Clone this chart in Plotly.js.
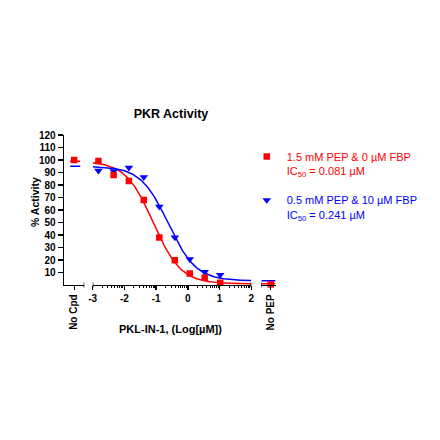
<!DOCTYPE html>
<html>
<head>
<meta charset="utf-8">
<script src="https://cdn.plot.ly/plotly-3.0.1.min.js"></script>
<style>html,body{margin:0;padding:0;background:#fff;}#chart{width:440px;height:440px;}</style>
</head>
<body>
<div id="chart"></div>
<script>
// ---- Data ----
const logConc = [-2.82, -2.34, -1.86, -1.39, -0.90, -0.41, 0.06, 0.53, 1.02]; // Log[µM]
const redActivity = [99.2, 88.0, 83.2, 68.0, 38.0, 19.9, 9.2, 5.8, 1.8];
const blueActivity = [91.5, 91.0, 93.9, 86.2, 62.7, 38.0, 20.7, 10.5, 8.1];
const noCpdRed = [100];
const noPepRed = [0.5];
// 4-parameter logistic fit: [top, bottom, logIC50, hill]
const redFit = [99.0, 1.0, -1.0915, 1.0];
const blueFit = [95.0, 3.4, -0.618, 1.0];
const majorTicks = [-3, -2, -1, 0, 1, 2];
const yTicks = [10, 20, 30, 40, 50, 60, 70, 80, 90, 100, 110, 120];
const seriesNames = ['1.5 mM PEP &amp; 0 µM FBP', '0.5 mM PEP &amp; 10 µM FBP'];
const ic50Labels = ['0.081 µM', '0.241 µM'];
const colors = ['#ff0000', '#0000ff'];

const FONT = 'Liberation Sans, Arial, sans-serif';

function fourPL(p, x) {
  return p[1] + (p[0] - p[1]) / (1 + Math.pow(10, (x - p[2]) * p[3]));
}
const curveX = [];
for (let i = 0; i <= 250; i++) curveX.push(-3 + 5 * i / 250);
const minorTicks = [];
for (let k = -3; k < 2; k++) for (let m = 2; m <= 9; m++) minorTicks.push(k + Math.log10(m));

function legendName(i) {
  return '<span style="color:' + colors[i] + '">' + seriesNames[i] + '</span><br>' +
         '<span style="color:' + colors[i] + '">IC<sub>50</sub> = ' + ic50Labels[i] + '</span>';
}

const traces = [
  // fitted curves
  {x: curveX, y: curveX.map(x => fourPL(redFit, x)), xaxis: 'x2', yaxis: 'y', mode: 'lines',
   line: {color: colors[0], width: 1.5}, showlegend: false, hoverinfo: 'skip'},
  {x: curveX, y: curveX.map(x => fourPL(blueFit, x)), xaxis: 'x2', yaxis: 'y', mode: 'lines',
   line: {color: colors[1], width: 1.5}, showlegend: false, hoverinfo: 'skip'},
  // top lines (No Cpd)
  {x: [-0.4, 0.6], y: [blueFit[0], blueFit[0]], xaxis: 'x', yaxis: 'y', mode: 'lines',
   line: {color: colors[1], width: 1.5}, showlegend: false},
  {x: [-0.4, 0.6], y: [redFit[0], redFit[0]], xaxis: 'x', yaxis: 'y', mode: 'lines',
   line: {color: colors[0], width: 1.5}, showlegend: false},
  // bottom lines (No PEP)
  {x: [-1.2, 0.6], y: [blueFit[1], blueFit[1]], xaxis: 'x3', yaxis: 'y', mode: 'lines',
   line: {color: colors[1], width: 1.5}, showlegend: false},
  {x: [-1.2, 0.6], y: [redFit[1], redFit[1]], xaxis: 'x3', yaxis: 'y', mode: 'lines',
   line: {color: colors[0], width: 1.5}, showlegend: false},
  // data points
  {x: logConc, y: blueActivity, xaxis: 'x2', yaxis: 'y', mode: 'markers', name: legendName(1),
   legendgroup: 'b', legendrank: 2, marker: {symbol: 'triangle-down', size: 7.5, color: colors[1]}},
  {x: logConc, y: redActivity, xaxis: 'x2', yaxis: 'y', mode: 'markers', name: legendName(0),
   legendgroup: 'a', legendrank: 1, marker: {symbol: 'square', size: 6.5, color: colors[0]}},
  {x: [0], y: noCpdRed, xaxis: 'x', yaxis: 'y', mode: 'markers', showlegend: false,
   marker: {symbol: 'square', size: 6.5, color: colors[0]}},
  {x: [0], y: noPepRed, xaxis: 'x3', yaxis: 'y', mode: 'markers', showlegend: false,
   marker: {symbol: 'square', size: 6.5, color: colors[0]}, cliponaxis: false}
];

const tickFont = {family: FONT, size: 10, color: '#000', weight: 700};
const axisCommon = {showline: true, linecolor: '#000', linewidth: 1.3, ticks: 'outside',
  tickcolor: '#000', tickwidth: 1.3, showgrid: false, zeroline: false, tickfont: tickFont, fixedrange: true};

const layout = {
  width: 440, height: 440,
  margin: {l: 64, r: 164, t: 135, b: 155, pad: 0},
  paper_bgcolor: '#fff', plot_bgcolor: '#fff',
  title: {text: '<b>PKR Activity</b>', font: {family: FONT, size: 12.5, color: '#000'},
          x: 0.3886, xanchor: 'center', y: 0.741, yanchor: 'middle'},
  xaxis: Object.assign({}, axisCommon, {domain: [0, 0.0958], range: [-1, 1], tickmode: 'array',
          tickvals: [0], ticktext: ['No Cpd'], tickangle: -90, ticklen: 4, anchor: 'y'}),
  xaxis2: Object.assign({}, axisCommon, {domain: [0.1354, 0.8835], range: [-3, 2], tickmode: 'array',
          tickvals: majorTicks, ticktext: majorTicks.map(String), ticklen: 4, anchor: 'y',
          minor: {tickmode: 'array', tickvals: minorTicks, ticks: 'outside', ticklen: 2,
                  tickcolor: '#000', tickwidth: 1, showgrid: false}}),
  xaxis3: Object.assign({}, axisCommon, {domain: [0.929, 1], range: [-1.3, 0.7], tickmode: 'array',
          tickvals: [0], ticktext: ['No PEP'], tickangle: -90, ticklen: 4, anchor: 'y'}),
  yaxis: Object.assign({}, axisCommon, {range: [0, 120], tickmode: 'array', tickvals: yTicks,
          ticklen: 5, anchor: 'x'}),
  showlegend: true,
  legend: {x: 0.862, xanchor: 'left', y: 0.948, yanchor: 'top', bgcolor: 'rgba(0,0,0,0)',
           font: {family: FONT, size: 11, color: '#000'}, valign: 'top', tracegroupgap: 12,
           traceorder: 'grouped'},
  annotations: [
    {text: '<b>% Activity</b>', xref: 'paper', yref: 'paper', x: -0.1368, y: 0.553,
     xanchor: 'center', yanchor: 'middle', textangle: -90, showarrow: false,
     font: {family: FONT, size: 10.5, color: '#000'}},
    {text: '<b>PKL-IN-1, (Log[µM])</b>', xref: 'paper', yref: 'paper', x: 0.503, y: -0.293,
     xanchor: 'center', yanchor: 'middle', showarrow: false,
     font: {family: FONT, size: 11, color: '#000'}}
  ],
  shapes: [
    {type: 'line', xref: 'x', yref: 'paper', x0: 1, x1: 1, y0: -0.016, y1: 0.016, line: {color: '#000', width: 1.3}},
    {type: 'line', xref: 'x2', yref: 'paper', x0: -3, x1: -3, y0: -0.016, y1: 0.016, line: {color: '#000', width: 1.3}},
    {type: 'line', xref: 'x2', yref: 'paper', x0: 2, x1: 2, y0: -0.016, y1: 0.016, line: {color: '#000', width: 1.3}},
    {type: 'line', xref: 'x3', yref: 'paper', x0: -1.3, x1: -1.3, y0: -0.016, y1: 0.016, line: {color: '#000', width: 1.3}}
  ]
};

Plotly.newPlot('chart', traces, layout, {staticPlot: true, displayModeBar: false});
</script>
</body>
</html>
